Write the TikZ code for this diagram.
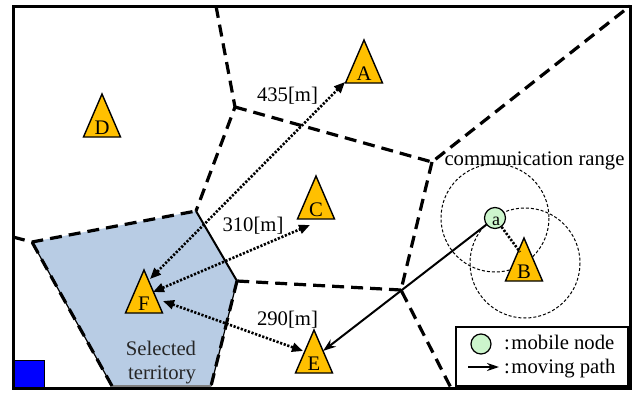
\documentclass[tikz,border=0pt]{standalone}
\usepackage{fontspec}
\setmainfont{Liberation Serif}
\usetikzlibrary{arrows.meta}
\definecolor{triY}{HTML}{FFC000}
\definecolor{terr}{HTML}{B8CCE4}
\definecolor{mob}{HTML}{CCF5CC}
\newcommand\mytri[4]{%
  \draw[trishape] (#2-18.5,#3) -- (#2,#3-43) -- (#2+18.5,#3) -- cycle;
  \node[txt, anchor=base] (#1) at (#2,#3-2.5) {#4};}
\begin{document}
\begin{tikzpicture}[x=1pt,y=-1pt,
  txt/.style={font=\fontsize{20.7}{24}\selectfont, inner sep=0pt},
  vor/.style={line width=3.2pt, dash pattern=on 12pt off 7pt},
  trishape/.style={fill=triY, draw=black, line width=1.4pt, line join=miter},
  dist/.style={line width=2.6pt, dash pattern=on 2.2pt off 1.6pt,
    {Triangle[length=11pt,width=9pt]}-{Triangle[length=11pt,width=9pt]}},
  movepath/.style={line width=2pt, -{Stealth[length=13pt,width=9pt]}},
  commrange/.style={line width=1pt, dash pattern=on 3pt off 2pt},
  mobnode/.style={circle, fill=mob, draw=black, line width=1.2pt, minimum size=21pt, inner sep=0pt}]
\useasboundingbox (0,0) rectangle (633,394);
% coordinates
\coordinate (J1) at (235,107);
\coordinate (J2) at (432,162);
\coordinate (J3) at (401,290);
\coordinate (P1) at (32,242);
\coordinate (P2) at (196,211);
\coordinate (P3) at (237,281);
\coordinate (P4) at (211,386);
\coordinate (P5) at (112,386);
\coordinate (T1) at (216,6);
\coordinate (TR) at (630,6);
\coordinate (B1) at (451,388);
\coordinate (L1) at (13,237);
% territory
\fill[terr] (P1) -- (P2) -- (P3) -- (P4) -- (P5) -- cycle;
\draw[line width=1.2pt] (P4) -- (P5) -- (P1);
\draw[line width=1.2pt] (P3) -- (P4);
\draw[line width=2pt] (P2) -- (P3);
\draw[draw=gray, line width=1.5pt] (P4) -- (P5);
% blue square
\draw[fill=blue, line width=0.8pt] (14,360) rectangle (44,388);
% voronoi
\draw[vor] (T1) -- (J1) -- (P2);
\draw[vor] (J1) -- (J2) -- (TR);
\draw[vor] (J2) -- (J3) -- (B1);
\draw[vor] (J3) -- (P3);
\draw[vor] (L1) -- (P1) -- (P2);
\draw[vor] (P3) -- (P4);
\draw[vor] (P5) -- (P1);
% ranges
\draw[commrange] (495,218) circle[radius=54];
\draw[commrange] (525,263) circle[radius=55];
% triangles
\mytri{A}{364}{83}{A}
\mytri{D}{102}{137}{D}
\mytri{C}{316}{219}{C}
\mytri{F}{144}{313}{F}
\mytri{E}{314}{373}{E}
\mytri{B}{524}{281}{B}
% mobile node
\node[mobnode] (a) at (495,218) {};
\node[font=\fontsize{18}{20}\selectfont, inner sep=0pt] (alab) at (496,221) {a};
% distance arrows
\coordinate (Aend) at (345,82);
\coordinate (FendA) at (150,279);
\coordinate (Cend) at (310,225);
\coordinate (FendC) at (153,292);
\coordinate (Eend) at (303,351);
\coordinate (FendE) at (163,301);
\draw[dist] (FendA) -- (Aend);
\draw[dist] (FendC) -- (Cend);
\draw[dist] (FendE) -- (Eend);
\coordinate (Btop) at (520,252);
\draw[line width=2.6pt, dash pattern=on 2.2pt off 1.6pt] (a) -- (Btop);
% moving path
\coordinate (Etip) at (323,351);
\draw[movepath] (a) -- (Etip);
% labels
\node[txt, anchor=base] (d1) at (287.5,101) {435[m]};
\node[txt, anchor=base] (d2) at (253,231) {310[m]};
\node[txt, anchor=base] (d3) at (287.5,325) {290[m]};
\node[txt, anchor=base] (cr) at (534.5,165) {communication range};
\node[txt, anchor=base, text=black!85] (st1) at (161,355) {Selected};
\node[txt, anchor=base, text=black!85] (st2) at (162,379) {territory};
% legend
\node[draw, line width=2.5pt, minimum width=172pt, minimum height=59pt, fill=white, inner sep=0pt] (leg) at (542,356.5) {};
\node[mobnode, minimum size=20pt] (lc) at (481,344) {};
\node[txt, anchor=base west] (l1) at (504,349) {:\kern1.5pt mobile node};
\coordinate (la1) at (468,367);
\coordinate (la2) at (499,367);
\draw[line width=2pt, -{Stealth[length=12pt,width=8pt]}] (la1) -- (la2);
\node[txt, anchor=base west] (l2) at (504,373) {:\kern1.5pt moving path};
% frame
\draw[line width=3pt] (13,6) rectangle (630,388);
\end{tikzpicture}
\end{document}
